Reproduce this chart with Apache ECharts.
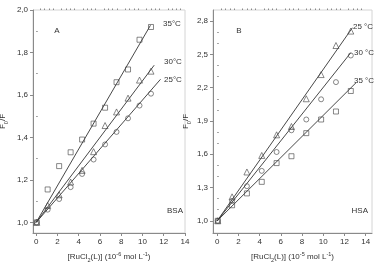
<!DOCTYPE html>
<html>
<head>
<meta charset="utf-8">
<script src="https://cdn.jsdelivr.net/npm/echarts@6/dist/echarts.min.js"></script>
<style>
    html, body { margin: 0; padding: 0; background: #fff; }
    #chart { width: 376px; height: 267px; }
</style>
</head>
<body>
<div id="chart"></div>
<script>
"use strict";

// panel A (BSA), x in 10^-6 mol/L
var xA = [0.05, 1.08, 2.16, 3.24, 4.32, 5.4, 6.48, 7.56, 8.64, 9.72, 10.8];
var a35 = [1.0, 1.155, 1.265, 1.33, 1.39, 1.465, 1.54, 1.66, 1.72, 1.86, 1.92];
var a30 = [1.0, 1.08, 1.13, 1.19, 1.245, 1.333, 1.456, 1.52, 1.585, 1.67, 1.712];
var a25 = [1.0, 1.06, 1.11, 1.166, 1.228, 1.296, 1.367, 1.426, 1.49, 1.55, 1.606];
var fitA35 = [[0, 1.0], [10.75, 1.928]];
var fitA30 = [[0, 1.0], [11.1, 1.74]];
var fitA25 = [[0, 1.0], [11.7, 1.674]];

// panel B (HSA), x in 10^-5 mol/L
var xB = [0.05, 1.4, 2.8, 4.2, 5.6, 7.0, 8.4, 9.8, 11.2, 12.6];
var b25 = [1.0, 1.216, 1.44, 1.589, 1.775, 1.85, 2.10, 2.318, 2.58, 2.71];
var b30 = [1.0, 1.18, 1.312, 1.45, 1.62, 1.816, 1.913, 2.095, 2.25, 2.49];
var b35 = [1.0, 1.14, 1.247, 1.351, 1.52, 1.582, 1.79, 1.913, 1.985, 2.17];
var fitB25 = [[0, 1.0], [12.75, 2.74]];
var fitB30 = [[0, 1.0], [12.6, 2.515]];
var fitB35 = [[0, 1.0], [13.1, 2.245]];

var xTicks = [0, 2, 4, 6, 8, 10, 12, 14];
var yTicksA = [1.0, 1.2, 1.4, 1.6, 1.8, 2.0];
var yTicksB = [1.0, 1.3, 1.6, 1.9, 2.2, 2.5, 2.8];

function minorOf(ticks, n) {
    var out = [];
    for (var i = 0; i < ticks.length - 1; i++) {
        var step = (ticks[i + 1] - ticks[i]) / n;
        for (var k = 1; k < n; k++) out.push(+(ticks[i] + k * step).toFixed(3));
    }
    return out;
}

function zip(xs, ys) {
    return xs.map(function (x, i) { return [x, ys[i]]; });
}

var font = 'Liberation Sans, Arial, sans-serif';
var txt = '#333';
var axisCol = '#8a8a8a';

function comma(v) { return v.toFixed(1).replace('.', ','); }

function mainX(grid, min, max, name) {
    return {
        type: 'value', gridIndex: grid, min: min, max: max,
        axisLine: {show: true, onZero: false, lineStyle: {color: axisCol, width: 1}},
        axisTick: {show: true, length: 3, customValues: xTicks, lineStyle: {color: axisCol}},
        axisLabel: {customValues: xTicks, color: txt, fontSize: 8, fontFamily: font, margin: 5},
        splitLine: {show: false},
        name: name, nameLocation: 'middle', nameGap: 18,
        nameTextStyle: {
            color: txt, fontSize: 8, fontFamily: font,
            rich: {
                n: {fontSize: 8, fontFamily: font, color: txt, lineHeight: 12},
                sub: {fontSize: 5.5, fontFamily: font, color: txt, lineHeight: 12, verticalAlign: 'bottom'},
                sup: {fontSize: 5.5, fontFamily: font, color: txt, lineHeight: 12, verticalAlign: 'top'}
            }
        }
    };
}

function minorX(grid, min, max) {
    return {
        type: 'value', gridIndex: grid, min: min, max: max,
        axisLine: {show: false},
        axisTick: {show: true, length: 1.5, customValues: minorOf(xTicks, 5), lineStyle: {color: axisCol}},
        axisLabel: {show: false},
        splitLine: {show: false}
    };
}

function mainY(grid, min, max, ticks, gap) {
    return {
        type: 'value', gridIndex: grid, min: min, max: max,
        axisLine: {show: true, onZero: false, lineStyle: {color: axisCol, width: 1}},
        axisTick: {show: true, length: 3, customValues: ticks, lineStyle: {color: axisCol}},
        axisLabel: {
            customValues: ticks, color: txt, fontSize: 8, fontFamily: font, margin: 5,
            formatter: comma
        },
        splitLine: {show: false},
        name: '{n|F}{sub|0}{n|/F}', nameLocation: 'middle', nameGap: gap,
        nameTextStyle: {
            color: txt, fontSize: 8, fontFamily: font,
            rich: {
                n: {fontSize: 8, fontFamily: font, color: txt, lineHeight: 12},
                sub: {fontSize: 5.5, fontFamily: font, color: txt, lineHeight: 12, verticalAlign: 'bottom'}
            }
        }
    };
}

function minorY(grid, min, max, ticks, n) {
    return {
        type: 'value', gridIndex: grid, min: min, max: max,
        axisLine: {show: false},
        axisTick: {show: true, length: 1.5, customValues: minorOf(ticks, n), lineStyle: {color: axisCol}},
        axisLabel: {show: false},
        splitLine: {show: false}
    };
}

function pts(ax, data, symbol) {
    return {
        type: 'scatter', xAxisIndex: ax, yAxisIndex: ax, data: data,
        symbol: symbol, symbolSize: symbol === 'triangle' ? 6 : 5,
        itemStyle: {color: 'rgba(0,0,0,0)', borderColor: '#444', borderWidth: 0.8},
        z: 3
    };
}

function fit(ax, data) {
    return {
        type: 'line', xAxisIndex: ax, yAxisIndex: ax, data: data,
        symbol: 'none', lineStyle: {color: '#333', width: 0.9}, z: 2
    };
}

function note(text, x, y, align, size) {
    return {
        type: 'text', x: x, y: y,
        style: {text: text, fill: txt, font: (size || 8) + 'px ' + font,
                textAlign: align || 'left', textVerticalAlign: 'middle'}
    };
}

var chart = echarts.init(document.getElementById('chart'), null, {renderer: 'canvas'});
chart.setOption({
    animation: false,
    grid: [
        {left: 33, right: 191, top: 10, bottom: 34, show: true, borderColor: '#d4d4d4', borderWidth: 1,
         outerBoundsMode: 'none', containLabel: false},
        {left: 213, right: 4, top: 10, bottom: 34, show: true, borderColor: '#d4d4d4', borderWidth: 1,
         outerBoundsMode: 'none', containLabel: false}
    ],
    xAxis: [
        mainX(0, -0.3, 14, '{n|[RuCl}{sub|2}{n|(L)] (10}{sup|-6}{n| mol L}{sup|-1}{n|)}'),
        minorX(0, -0.3, 14),
        mainX(1, -0.4, 14.6, '{n|[RuCl}{sub|2}{n|(L)] (10}{sup|-5}{n| mol L}{sup|-1}{n|)}'),
        minorX(1, -0.4, 14.6)
    ],
    yAxis: [
        mainY(0, 0.95, 2.0, yTicksA, 24),
        minorY(0, 0.95, 2.0, yTicksA, 2),
        mainY(1, 0.89, 2.9, yTicksB, 21),
        minorY(1, 0.89, 2.9, yTicksB, 3)
    ],
    series: [
        fit(0, fitA35), fit(0, fitA30), fit(0, fitA25),
        pts(0, zip(xA, a35), 'rect'),
        pts(0, zip(xA, a30), 'triangle'),
        pts(0, zip(xA, a25), 'circle'),
        fit(2, fitB25), fit(2, fitB30), fit(2, fitB35),
        pts(2, zip(xB, b25), 'triangle'),
        pts(2, zip(xB, b30), 'circle'),
        pts(2, zip(xB, b35), 'rect')
    ],
    graphic: [
        note('A', 57, 31, 'center'),
        note('35°C', 163, 24),
        note('30°C', 164, 62),
        note('25°C', 164, 80),
        note('BSA', 183, 211, 'right'),
        note('B', 239, 31, 'center'),
        note('25 °C', 353, 27),
        note('30 °C', 354, 53),
        note('35 °C', 354, 81),
        note('HSA', 368, 211, 'right')
    ]
});
</script>
</body>
</html>
